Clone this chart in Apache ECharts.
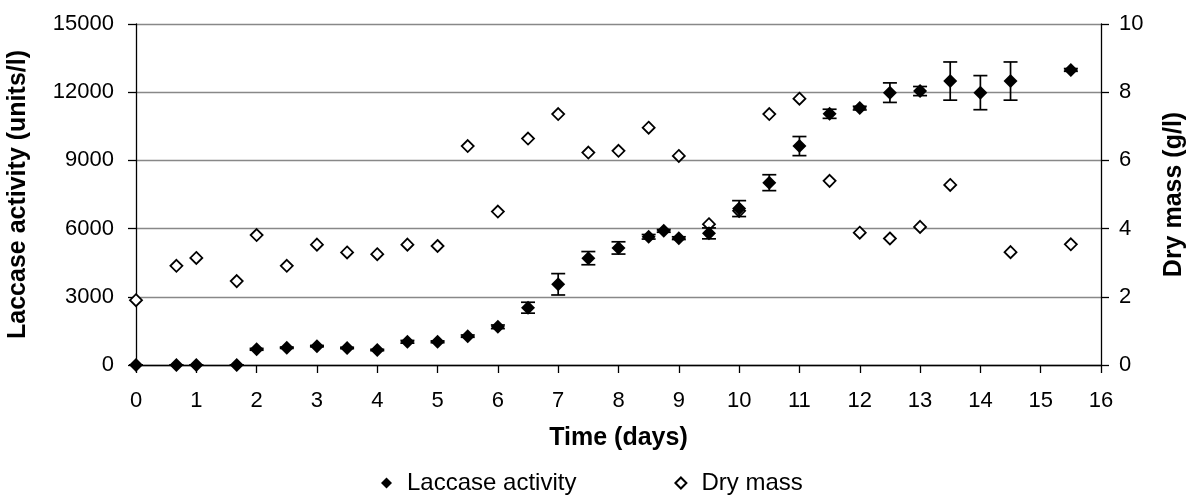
<!DOCTYPE html>
<html>
<head>
<meta charset="utf-8">
<script src="https://cdn.jsdelivr.net/npm/echarts@6/dist/echarts.min.js"></script>
<style>html,body{margin:0;padding:0;background:#fff}#c{width:1187px;height:496px}</style>
</head>
<body>
<div id="c"></div>
<script>
// Laccase activity (units/l): time, value, error (±)
var laccaseTime  = [0, 0.67, 1, 1.67, 2, 2.5, 3, 3.5, 4, 4.5, 5, 5.5, 6, 6.5, 7, 7.5, 8, 8.5, 8.75, 9, 9.5, 10, 10.5, 11, 11.5, 12, 12.5, 13, 13.5, 14, 14.5, 15.5];
var laccaseValue = [0, 0, 0, 0, 690, 760, 830, 750, 660, 1020, 1020, 1270, 1680, 2520, 3550, 4700, 5150, 5640, 5900, 5580, 5790, 6880, 8020, 9630, 11050, 11300, 11980, 12050, 12490, 11980, 12490, 12980];
var laccaseError = [0, 0, 0, 0, 40, 30, 30, 30, 30, 60, 40, 50, 80, 240, 470, 290, 270, 100, 60, 60, 240, 350, 350, 420, 200, 80, 430, 200, 840, 750, 840, 60];
// Dry mass (g/l)
var dryTime  = [0, 0.67, 1, 1.67, 2, 2.5, 3, 3.5, 4, 4.5, 5, 5.5, 6, 6.5, 7, 7.5, 8, 8.5, 9, 9.5, 10, 10.5, 11, 11.5, 12, 12.5, 13, 13.5, 14.5, 15.5];
var dryValue = [1.90, 2.91, 3.14, 2.46, 3.81, 2.91, 3.53, 3.30, 3.25, 3.53, 3.49, 6.42, 4.50, 6.64, 7.36, 6.23, 6.28, 6.96, 6.13, 4.13, 4.52, 7.36, 7.81, 5.40, 3.88, 3.71, 4.05, 5.28, 3.31, 3.54];

var laccaseData = laccaseTime.map(function (t, i) { return [t, laccaseValue[i]]; });
var errorData = laccaseTime.map(function (t, i) { return [t, laccaseValue[i] - laccaseError[i], laccaseValue[i] + laccaseError[i]]; });
var dryData = dryTime.map(function (t, i) { return [t, dryValue[i]]; });

var FONT = 'Liberation Sans, Arial, sans-serif';
var plain = function (v) { return String(v); };
var chart = echarts.init(document.getElementById('c'), null, { renderer: 'canvas' });
chart.setOption({
  animation: false,
  backgroundColor: '#fff',
  grid: { left: 136, right: 86, top: 24, bottom: 131, containLabel: false, outerBoundsMode: 'none' },
  legend: {
    left: 376, top: 466,
    itemWidth: 11, itemHeight: 11, itemGap: 98,
    textStyle: { fontFamily: FONT, fontSize: 24, color: '#000', padding: [0, 0, 0, 10] },
    data: [
      { name: 'Laccase activity', icon: 'diamond' },
      { name: 'Dry mass', icon: 'diamond' }
    ]
  },
  xAxis: {
    type: 'value', min: 0, max: 16, interval: 1,
    name: 'Time (days)', nameLocation: 'middle', nameGap: 61,
    nameTextStyle: { fontFamily: FONT, fontSize: 25, fontWeight: 'bold', color: '#000' },
    axisLine: { show: true, onZero: false, lineStyle: { color: '#000', width: 1.3 } },
    axisTick: { show: true, inside: false, length: 8, lineStyle: { color: '#000', width: 1.3 } },
    axisLabel: { fontFamily: FONT, fontSize: 22, color: '#000', margin: 25, formatter: plain },
    splitLine: { show: false }
  },
  yAxis: [
    {
      type: 'value', min: 0, max: 15000, interval: 3000, position: 'left',
      name: 'Laccase activity (units/l)', nameLocation: 'middle', nameGap: 105, nameRotate: 90,
      nameTextStyle: { fontFamily: FONT, fontSize: 25, fontWeight: 'bold', color: '#000' },
      axisLine: { show: true, lineStyle: { color: '#000', width: 1.3 } },
      axisTick: { show: true, inside: false, length: 8, lineStyle: { color: '#000', width: 1.3 } },
      axisLabel: { fontFamily: FONT, fontSize: 22, color: '#000', margin: 22, formatter: plain },
      splitLine: { show: true, lineStyle: { color: '#888', width: 1.3 } }
    },
    {
      type: 'value', min: 0, max: 10, interval: 2, position: 'right',
      name: 'Dry mass (g/l)', nameLocation: 'middle', nameGap: 61, nameRotate: 90,
      nameTextStyle: { fontFamily: FONT, fontSize: 25, fontWeight: 'bold', color: '#000' },
      axisLine: { show: true, lineStyle: { color: '#000', width: 1.3 } },
      axisTick: { show: true, inside: false, length: 8, lineStyle: { color: '#000', width: 1.3 } },
      axisLabel: { fontFamily: FONT, fontSize: 22, color: '#000', margin: 18, formatter: plain },
      splitLine: { show: false }
    }
  ],
  series: [
    {
      name: 'Dry mass', type: 'scatter', yAxisIndex: 1, data: dryData,
      symbol: 'diamond', symbolSize: 12, z: 2,
      itemStyle: { color: '#fff', borderColor: '#000', borderWidth: 1.8, opacity: 1 }
    },
    {
      name: 'Laccase error', type: 'custom', yAxisIndex: 0, data: errorData, z: 3,
      renderItem: function (params, api) {
        var x = api.value(0);
        var lo = api.coord([x, api.value(1)]);
        var hi = api.coord([x, api.value(2)]);
        var hw = 7;
        var style = { stroke: '#000', lineWidth: 1.7, fill: null };
        return {
          type: 'group',
          children: [
            { type: 'line', shape: { x1: lo[0], y1: lo[1], x2: hi[0], y2: hi[1] }, style: style },
            { type: 'line', shape: { x1: lo[0] - hw, y1: lo[1], x2: lo[0] + hw, y2: lo[1] }, style: style },
            { type: 'line', shape: { x1: hi[0] - hw, y1: hi[1], x2: hi[0] + hw, y2: hi[1] }, style: style }
          ]
        };
      },
      encode: { x: 0, y: [1, 2] }
    },
    {
      name: 'Laccase activity', type: 'scatter', yAxisIndex: 0, data: laccaseData,
      symbol: 'diamond', symbolSize: 14, z: 4,
      itemStyle: { color: '#000', opacity: 1 }
    }
  ]
});
</script>
</body>
</html>
